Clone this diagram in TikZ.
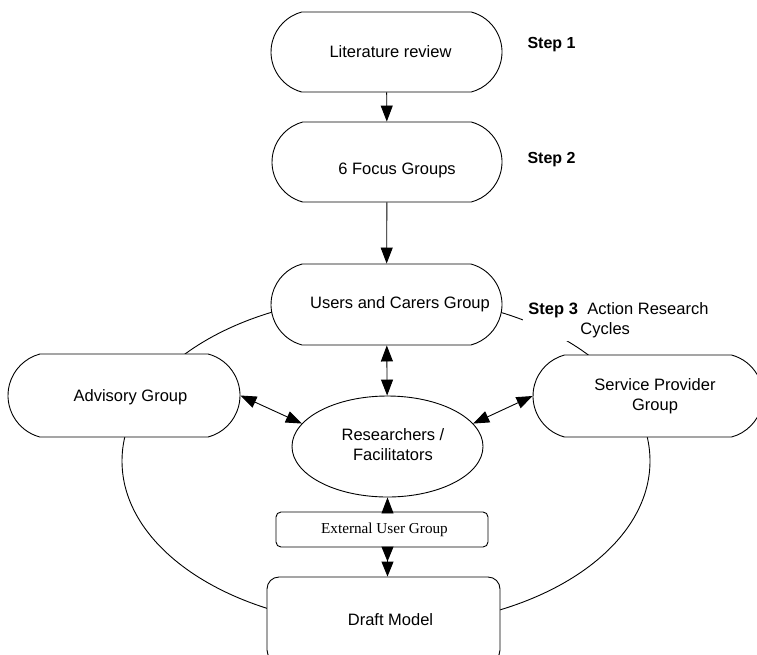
\documentclass[tikz,border=0pt]{standalone}
\usepackage{fontspec}
\setmainfont{Liberation Sans}
\newfontfamily\extfont{Liberation Serif}
\usetikzlibrary{shapes.misc,shapes.geometric,arrows.meta}
\newcommand\offtext[3]{\makebox[0pt]{\hspace*{#1}\raisebox{#2}[\height][\depth]{#3}}}
\begin{document}
\begin{tikzpicture}[x=1pt,y=-1pt,line width=0.9pt,
  >={Triangle[length=16pt,width=12pt]},
  txtfont/.style={font=\fontsize{16.5}{20}\selectfont},
  stad/.style={draw,fill=white,rounded rectangle,rounded rectangle arc length=150,
    inner sep=0pt,txtfont},
  resell/.style={draw,fill=white,ellipse,inner sep=0pt,txtfont,
    minimum width=191pt,minimum height=101pt},
  extbox/.style={draw,fill=white,rectangle,rounded corners=5pt,inner sep=0pt,
    minimum width=212pt,minimum height=35pt,font=\extfont\fontsize{15.2}{18}\selectfont},
  draftbox/.style={draw,fill=white,rectangle,rounded corners=12pt,inner sep=0pt,
    minimum width=233pt,minimum height=85pt,txtfont},
  steplabel/.style={font=\bfseries\fontsize{16}{19}\selectfont,inner sep=0pt},
  dbltip/.style={-{Triangle[length=15pt,width=12pt]Triangle[length=15pt,width=12pt]}}]
\useasboundingbox (0,0) rectangle (757,654);
% action research cycle
\draw (386,461) ellipse [x radius=264pt,y radius=165pt];
% boxes
\node[stad,minimum width=231pt,minimum height=80pt] (lit) at (386.5,52) {\offtext{8pt}{0pt}{Literature review}};
\node[stad,minimum width=230pt,minimum height=80pt] (focus) at (387,162) {\offtext{20pt}{-8pt}{6 Focus Groups}};
\node[stad,minimum width=231pt,minimum height=81pt] (users) at (386.5,304.5) {\offtext{27pt}{0pt}{Users and Carers Group}};
\node[stad,minimum width=232pt,minimum height=83pt] (adv) at (124,395.5) {\offtext{13pt}{-1.5pt}{Advisory Group}};
\node[stad,minimum width=230pt,minimum height=82pt] (svc) at (648,396) {\offtext{14pt}{0pt}{\begin{tabular}{@{}c@{}}Service Provider\\Group\end{tabular}}};
\node[resell] (res) at (387.5,446.5) {\offtext{11pt}{0pt}{\begin{tabular}{@{}c@{}}Researchers /\\Facilitators\end{tabular}}};
\node[extbox] (ext) at (382,529.5) {\offtext{5pt}{0pt}{External User Group}};
\node[draftbox] (draft) at (383.5,619.5) {\offtext{14pt}{0pt}{Draft Model}};
% step labels
\node[steplabel] (s1) at (551.5,45) {Step 1};
\node[steplabel] (s2) at (551.5,160) {Step 2};
\node[fill=white,inner xsep=5pt,inner ysep=3pt,anchor=west,align=left,txtfont] (s3) at (523,320)
  {\textbf{Step 3}\hspace*{9.5pt}Action Research\\\hspace*{52pt}Cycles};
% connectors
\draw[->] (lit) -- (focus);
\draw[->] (focus) -- (users);
\draw[<->] (users) -- (res);
\draw[<->] (adv.east) -- (res.165);
\draw[<->] (svc.west) -- (res.15);
\draw[->] (ext.north -| res.south) -- (res.south);
\draw[dbltip] (ext.south -| res.south) -- (draft.north -| res.south);
\end{tikzpicture}
\end{document}
